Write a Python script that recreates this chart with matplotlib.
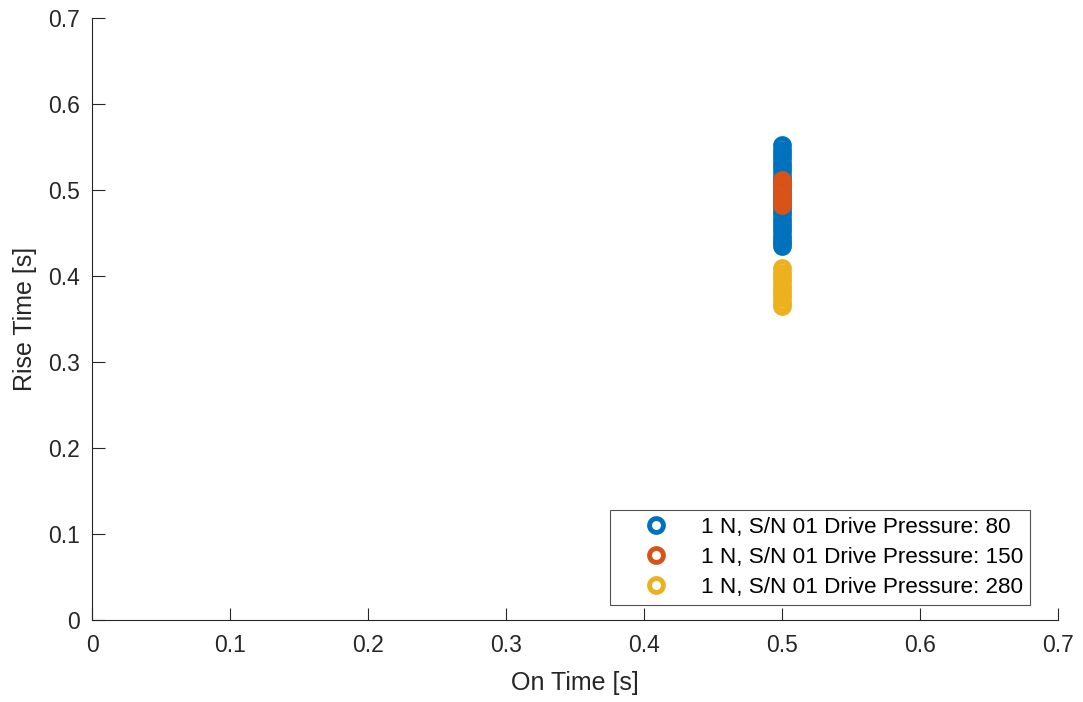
import matplotlib
matplotlib.use("Agg")
import matplotlib.pyplot as plt

# on time for every run
on_time = 0.5

# rise time per drive pressure
rise_80 = [0.552, 0.547, 0.542, 0.537, 0.532, 0.527, 0.522, 0.517, 0.512, 0.507,
           0.502, 0.497, 0.492, 0.487, 0.482, 0.477, 0.472, 0.467, 0.462, 0.457,
           0.452, 0.447, 0.442, 0.438, 0.435]
rise_150 = [0.512, 0.507, 0.502, 0.497, 0.492, 0.487, 0.483]
rise_280 = [0.409, 0.404, 0.399, 0.394, 0.389, 0.384, 0.379, 0.374, 0.369, 0.365]

labels = ["1 N, S/N 01 Drive Pressure: 80",
          "1 N, S/N 01 Drive Pressure: 150",
          "1 N, S/N 01 Drive Pressure: 280"]
colors = ["#0072BD", "#D95319", "#EDB120"]

plt.rcParams["font.family"] = ["Liberation Sans", "DejaVu Sans"]

fig = plt.figure(figsize=(10.83, 7.02), dpi=100)
ax = fig.add_axes([0.085, 0.117, 0.892, 0.857])

for ys, c, lab in zip([rise_80, rise_150, rise_280], colors, labels):
    ax.plot([on_time] * len(ys), ys, linestyle="none", marker="o",
            markersize=10, markeredgewidth=3.5, markerfacecolor="none",
            markeredgecolor=c, label=lab)

ticks = [0, 0.1, 0.2, 0.3, 0.4, 0.5, 0.6, 0.7]
tick_labels = ["0", "0.1", "0.2", "0.3", "0.4", "0.5", "0.6", "0.7"]
ax.set_xlim(0, 0.7)
ax.set_ylim(0, 0.7)
ax.set_xticks(ticks)
ax.set_yticks(ticks)
ax.set_xticklabels(tick_labels)
ax.set_yticklabels(tick_labels)

ax.spines["top"].set_visible(False)
ax.spines["right"].set_visible(False)
for s in ["left", "bottom"]:
    ax.spines[s].set_color("#262626")
    ax.spines[s].set_linewidth(0.8)
ax.tick_params(direction="in", length=9, width=0.8, colors="#262626",
               labelsize=16.5, pad=9)
ax.tick_params(axis="x", pad=10)

ax.set_xlabel("On Time [s]", fontsize=18, color="#262626", labelpad=10)
ax.set_ylabel("Rise Time [s]", fontsize=18, color="#262626", labelpad=8)

leg = ax.legend(loc="lower right", fontsize=16.2, frameon=True, fancybox=False,
                edgecolor="#262626", borderpad=0.3, handletextpad=0.25,
                handlelength=3.5, labelspacing=0.4, borderaxespad=0,
                bbox_to_anchor=(0.971, 0.025))
leg.get_frame().set_linewidth(0.8)

fig.savefig("out.png", dpi=100)
